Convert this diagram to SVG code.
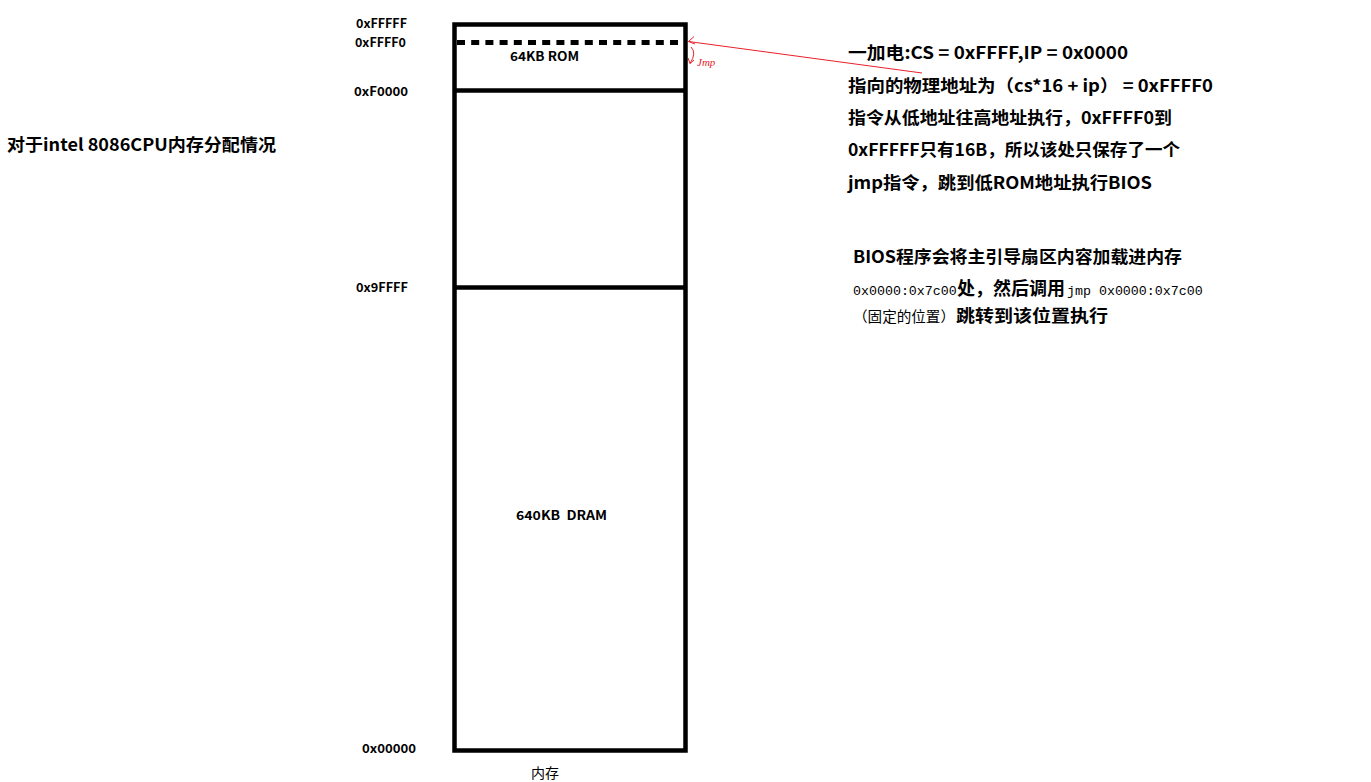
<svg xmlns="http://www.w3.org/2000/svg" width="1371" height="782" viewBox="0 0 1371 782">
<style>
.b{font-family:"Noto Sans CJK SC","Noto Sans",sans-serif;font-weight:bold;fill:#000}
.r{font-family:"Noto Sans CJK SC","Noto Sans",sans-serif;font-weight:normal;fill:#000}
.m{font-family:"Liberation Mono",monospace;font-size:13.3px;fill:#000}
.lbl{font-size:12.5px}
.big{font-size:17px}
.box{fill:none;stroke:#000;stroke-width:4.5}
.red{fill:none;stroke:#e8202a;stroke-width:1}
</style>
<rect width="1371" height="782" fill="#fff"/>
<g id="memory">
<rect class="box" x="454.5" y="24.5" width="231" height="726"/>
<line class="box" x1="456" y1="90.5" x2="684" y2="90.5"/>
<line class="box" x1="456" y1="287.5" x2="684" y2="287.5"/>
<line x1="457" y1="42.5" x2="684" y2="42.5" stroke="#000" stroke-width="5" stroke-dasharray="8,6.2"/>
<text class="b lbl" x="510" y="60.5" textLength="69" lengthAdjust="spacingAndGlyphs">64KB ROM</text>
<text class="b lbl" x="516" y="520" textLength="91" lengthAdjust="spacingAndGlyphs" xml:space="preserve">640KB  DRAM</text>
<text class="r" x="531" y="778" font-size="14">内存</text>
</g>
<g id="addresses">
<text class="b lbl" x="356" y="28" textLength="51" lengthAdjust="spacingAndGlyphs">0xFFFFF</text>
<text class="b lbl" x="355" y="47" textLength="51" lengthAdjust="spacingAndGlyphs">0xFFFF0</text>
<text class="b lbl" x="354" y="95.5" textLength="54" lengthAdjust="spacingAndGlyphs">0xF0000</text>
<text class="b lbl" x="356" y="292" textLength="52" lengthAdjust="spacingAndGlyphs">0x9FFFF</text>
<text class="b lbl" x="362" y="752.5" textLength="54" lengthAdjust="spacingAndGlyphs">0x00000</text>
</g>
<g id="title">
<text class="b" x="7" y="151" font-size="17" textLength="269" lengthAdjust="spacingAndGlyphs">对于intel 8086CPU内存分配情况</text>
</g>
<g id="connectors">
<line class="red" x1="688.5" y1="41.5" x2="922" y2="73"/>
<polyline class="red" points="694,36.5 688.5,41.5 695,44"/>
<path class="red" d="M691,47 Q697,53 690,63.5"/>
<polyline class="red" points="688,58 690,63.5 694,60"/>
<text x="697" y="66" font-family="Liberation Serif,serif" font-style="italic" font-size="11" fill="#e8202a">Jmp</text>
</g>
<g id="notes">
<text class="b big" x="848" y="58.5" textLength="280" lengthAdjust="spacingAndGlyphs">一加电:CS = 0xFFFF,IP = 0x0000</text>
<text class="b big" x="848" y="91.5" textLength="365" lengthAdjust="spacingAndGlyphs">指向的物理地址为（cs*16 + ip） = 0xFFFF0</text>
<text class="b big" x="848" y="123.5" textLength="324" lengthAdjust="spacingAndGlyphs">指令从低地址往高地址执行，0xFFFF0到</text>
<text class="b big" x="848" y="156" textLength="332" lengthAdjust="spacingAndGlyphs">0xFFFFF只有16B，所以该处只保存了一个</text>
<text class="b big" x="848" y="188.5" textLength="304" lengthAdjust="spacingAndGlyphs">jmp指令，跳到低ROM地址执行BIOS</text>
</g>
<g id="bios-notes">
<text class="b big" x="853" y="263" textLength="329" lengthAdjust="spacingAndGlyphs">BIOS程序会将主引导扇区内容加载进内存</text>
<text class="m" x="853" y="294.5">0x0000:0x7c00</text>
<text class="b" x="957" y="295" font-size="18" textLength="108" lengthAdjust="spacingAndGlyphs">处，然后调用</text>
<text class="m" x="1067" y="294.5">jmp 0x0000:0x7c00</text>
<text class="r" x="853" y="322" font-size="14.5" textLength="102" lengthAdjust="spacingAndGlyphs">（固定的位置）</text>
<text class="b" x="956" y="322" font-size="17" textLength="152" lengthAdjust="spacingAndGlyphs">跳转到该位置执行</text>
</g>
</svg>
